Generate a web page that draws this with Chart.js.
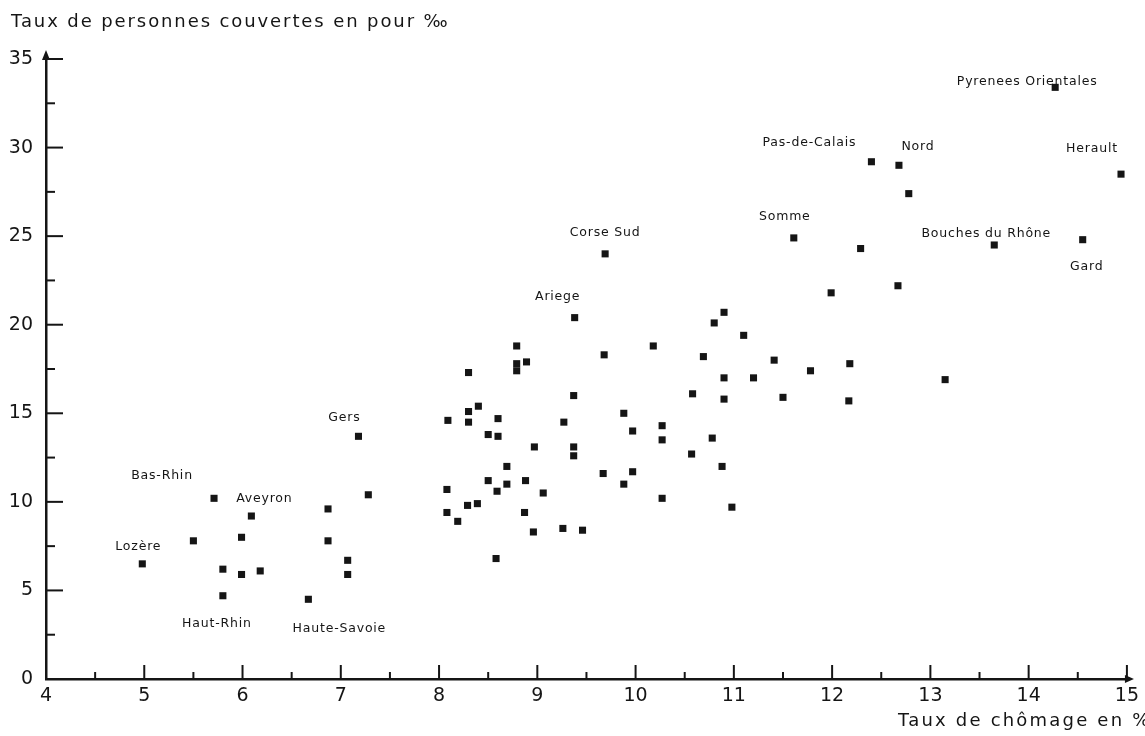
<!DOCTYPE html>
<html>
<head>
<meta charset="utf-8">
<script src="https://cdn.jsdelivr.net/npm/chart.js@4"></script>
<style>
  html, body { margin: 0; padding: 0; background: #fff; }
  #wrap { width: 1145px; height: 736px; position: relative; }
</style>
</head>
<body>
<div id="wrap"><canvas id="chart"></canvas></div>
<script>
// Taux de chomage (%) par departement
var chomage = [
    4.98, 5.71, 5.50, 6.09, 5.99, 5.80, 5.99, 6.18, 5.80, 6.67,
    7.18, 7.28, 6.87, 6.87, 7.07, 7.07, 8.79, 8.79, 8.79, 8.89,
    8.30, 9.68, 9.37, 8.40, 8.30, 8.09, 8.30, 8.60, 8.50, 8.60,
    9.27, 9.88, 9.97, 8.97, 9.37, 9.37, 8.69, 8.50, 8.69, 8.88,
    8.59, 9.06, 8.08, 8.29, 8.39, 8.08, 8.19, 8.87, 8.96, 9.26,
    9.46, 8.58, 9.67, 9.88, 9.97, 9.69, 9.38, 10.90, 10.80, 11.10,
    11.61, 11.99, 10.18, 10.69, 11.41, 12.18, 10.90, 11.20, 11.78, 10.58,
    10.90, 11.50, 12.17, 10.27, 10.27, 10.78, 10.57, 10.88, 10.27, 10.98,
    12.40, 12.68, 12.78, 14.94, 14.55, 13.65, 12.29, 12.67, 13.15, 14.27
];

// Taux de personnes couvertes (pour mille)
var couverture = [
    6.5, 10.2, 7.8, 9.2, 8.0, 6.2, 5.9, 6.1, 4.7, 4.5,
    13.7, 10.4, 9.6, 7.8, 6.7, 5.9, 18.8, 17.8, 17.4, 17.9,
    17.3, 18.3, 16.0, 15.4, 15.1, 14.6, 14.5, 14.7, 13.8, 13.7,
    14.5, 15.0, 14.0, 13.1, 13.1, 12.6, 12.0, 11.2, 11.0, 11.2,
    10.6, 10.5, 10.7, 9.8, 9.9, 9.4, 8.9, 9.4, 8.3, 8.5,
    8.4, 6.8, 11.6, 11.0, 11.7, 24.0, 20.4, 20.7, 20.1, 19.4,
    24.9, 21.8, 18.8, 18.2, 18.0, 17.8, 17.0, 17.0, 17.4, 16.1,
    15.8, 15.9, 15.7, 14.3, 13.5, 13.6, 12.7, 12.0, 10.2, 9.7,
    29.2, 29.0, 27.4, 28.5, 24.8, 24.5, 24.3, 22.2, 16.9, 33.4
];

// names written next to some points (index into the arrays above)
var nomsIndex = [0, 1, 3, 8, 9, 10, 55, 56, 60, 80, 81, 83, 84, 85, 89];
var noms = ['Lozère', 'Bas-Rhin', 'Aveyron', 'Haut-Rhin', 'Haute-Savoie', 'Gers',
    'Corse Sud', 'Ariege', 'Somme', 'Pas-de-Calais', 'Nord', 'Herault', 'Gard',
    'Bouches du Rhône', 'Pyrenees Orientales'];
// label offset from its point, in pixels
var nomsDecalage = [[-4, -17], [-52, -23], [13, -17], [-6, 28], [31, 29], [-14, -19],
    [0, -21], [-17, -21], [-9, -21], [-62, -19], [19, -19], [-29, -25], [4, 27],
    [-8, -11], [-28, -6]];

var xTicks = [4, 5, 6, 7, 8, 9, 10, 11, 12, 13, 14, 15];
var yTicks = [0, 5, 10, 15, 20, 25, 30, 35];

var points = chomage.map(function(x, i) { return { x: x, y: couverture[i] }; });
var ink = '#151515';

var decor = {
    id: 'decor',
    afterDraw: function(chart) {
        var ctx = chart.ctx;
        var xs = chart.scales.x, ys = chart.scales.y;
        var x0 = xs.getPixelForValue(4), y0 = ys.getPixelForValue(0);
        ctx.save();
        ctx.strokeStyle = ink;
        ctx.fillStyle = ink;

        // ticks drawn inside the axes, long on units, short on halves
        ctx.lineWidth = 2;
        for (var v = 2.5; v <= 35; v += 2.5) {
            var py = ys.getPixelForValue(v);
            ctx.beginPath();
            ctx.moveTo(x0, py);
            ctx.lineTo(x0 + (v % 5 === 0 ? 17 : 9), py);
            ctx.stroke();
        }
        for (var u = 4.5; u <= 15; u += 0.5) {
            var px = xs.getPixelForValue(u);
            ctx.beginPath();
            ctx.moveTo(px, y0);
            ctx.lineTo(px, y0 - (u % 1 === 0 ? 14 : 7));
            ctx.stroke();
        }

        // arrow heads
        var top = ys.getPixelForValue(35);
        ctx.beginPath();
        ctx.moveTo(x0, top - 9);
        ctx.lineTo(x0 - 4, top + 1);
        ctx.lineTo(x0 + 4, top + 1);
        ctx.fill();
        var right = xs.getPixelForValue(15);
        ctx.beginPath();
        ctx.moveTo(right + 7, y0);
        ctx.lineTo(right - 2, y0 - 4);
        ctx.lineTo(right - 2, y0 + 4);
        ctx.fill();

        // point names
        ctx.font = '12.5px "DejaVu Sans"';
        ctx.letterSpacing = '0.8px';
        ctx.textAlign = 'center';
        ctx.textBaseline = 'middle';
        nomsIndex.forEach(function(idx, k) {
            var px = xs.getPixelForValue(chomage[idx]);
            var py = ys.getPixelForValue(couverture[idx]);
            ctx.fillText(noms[k], px + nomsDecalage[k][0], py + nomsDecalage[k][1]);
        });

        // axis titles
        ctx.font = '18px "DejaVu Sans"';
        ctx.letterSpacing = '1.9px';
        ctx.textAlign = 'left';
        ctx.textBaseline = 'middle';
        ctx.fillText('Taux de personnes couvertes en pour ‰', 11, 22);
        ctx.letterSpacing = '2.2px';
        ctx.fillText('Taux de chômage en %', 898, 721);
        ctx.restore();
    }
};

var ctx = document.getElementById('chart').getContext('2d');
var myChart = new Chart(ctx, {
    type: 'scatter',
    data: {
        datasets: [{
            data: points,
            pointStyle: 'rect',
            radius: 5,
            backgroundColor: ink,
            borderColor: ink,
            borderWidth: 0
        }]
    },
    options: {
        responsive: true,
        maintainAspectRatio: false,
        animation: false,
        plugins: {
            legend: { display: false },
            tooltip: { enabled: false }
        },
        layout: {
            padding: { left: 0, right: 9, top: 59, bottom: 0 }
        },
        scales: {
            x: {
                type: 'linear',
                min: 4,
                max: 15,
                afterBuildTicks: function(s) { s.ticks = xTicks.map(function(v) { return { value: v }; }); },
                afterFit: function(s) { s.height = 57; },
                ticks: {
                    color: ink,
                    font: { family: 'DejaVu Sans', size: 19 },
                    padding: 6,
                    maxRotation: 0
                },
                grid: { display: false, drawTicks: false },
                border: { display: true, color: ink, width: 2.5 }
            },
            y: {
                type: 'linear',
                min: 0,
                max: 35,
                afterBuildTicks: function(s) { s.ticks = yTicks.map(function(v) { return { value: v }; }); },
                afterFit: function(s) { s.width = 46; },
                ticks: {
                    color: ink,
                    font: { family: 'DejaVu Sans', size: 19 },
                    padding: 13
                },
                grid: { display: false, drawTicks: false },
                border: { display: true, color: ink, width: 2.5 }
            }
        }
    },
    plugins: [decor]
});
</script>
</body>
</html>
